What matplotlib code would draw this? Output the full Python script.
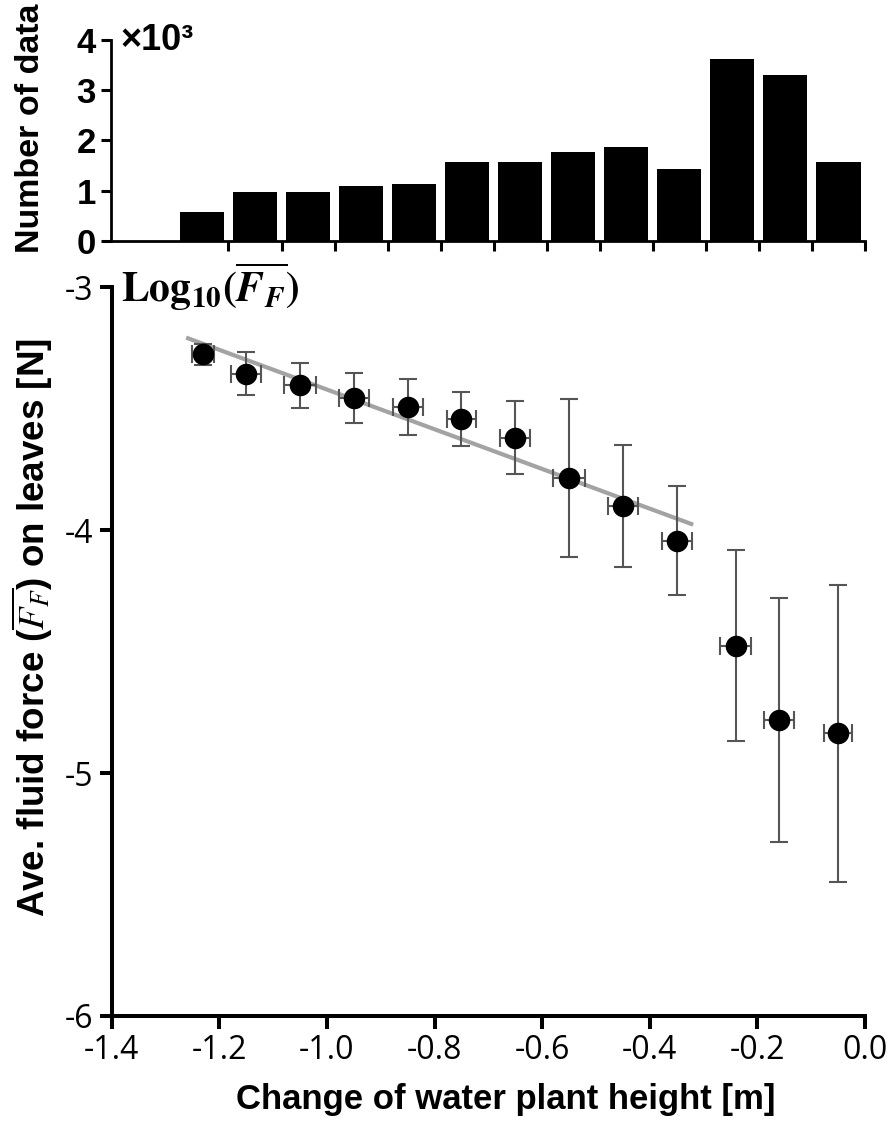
import matplotlib
matplotlib.use("Agg")
import matplotlib.pyplot as plt
import numpy as np

# histogram of data counts (x10^3), one bin per height class
counts = [0.57, 0.98, 0.98, 1.09, 1.14, 1.56, 1.57, 1.76, 1.87, 1.42, 3.63, 3.31, 1.57]

# mean log10 fluid force vs change of plant height
height_change = [-1.23, -1.15, -1.05, -0.95, -0.85, -0.75, -0.65, -0.55, -0.45, -0.35, -0.24, -0.16, -0.05]
height_err = [0.021, 0.028, 0.029, 0.028, 0.028, 0.027, 0.028, 0.029, 0.028, 0.028, 0.029, 0.028, 0.026]
log_force = [-3.276, -3.357, -3.405, -3.458, -3.495, -3.543, -3.620, -3.787, -3.901, -4.044, -4.476, -4.782, -4.837]
log_force_err = [0.043, 0.089, 0.091, 0.103, 0.115, 0.111, 0.149, 0.325, 0.252, 0.225, 0.392, 0.503, 0.610]

# regression line over the first ten classes
fit_x = [-1.258, -0.323]
fit_y = [-3.211, -3.975]

x_ticks = [-1.4, -1.2, -1.0, -0.8, -0.6, -0.4, -0.2, 0.0]
y_ticks = [-6, -5, -4, -3]
hist_ticks = [0, 1, 2, 3, 4]

plt.rcParams["mathtext.fontset"] = "stix"
bold_font = ["Liberation Sans", "DejaVu Sans"]
tick_font = ["Open Sans", "DejaVu Sans"]

fig = plt.figure(figsize=(8.94, 11.27), dpi=100)

# ---- top histogram
ax_h = fig.add_axes([0.1242, 0.7864, 0.8434, 0.1781])
pos = np.arange(len(counts))
ax_h.bar(pos, counts, width=0.83, color="black")
ax_h.set_xlim(-1.714, 12.5)
ax_h.set_ylim(0, 4)
ax_h.set_xticks(pos + 0.5)
ax_h.set_xticklabels([])
ax_h.set_yticks(hist_ticks)
ax_h.set_yticklabels([str(t) for t in hist_ticks], family=bold_font, weight="bold", fontsize=25)
for s in ["top", "right"]:
    ax_h.spines[s].set_visible(False)
for s in ["left", "bottom"]:
    ax_h.spines[s].set_linewidth(2.0)
ax_h.tick_params(axis="both", length=7, width=2.2, direction="out", pad=4)
ax_h.text(0.012, 1.0, "\u00d710\u00b3", transform=ax_h.transAxes, ha="left", va="center",
          family=bold_font, weight="bold", fontsize=26)
fig.text(0.034, 0.886, "Number of data", rotation=90, ha="center", va="center",
         family=bold_font, weight="bold", fontsize=24.5)

# ---- main scatter
ax = fig.add_axes([0.1249, 0.0985, 0.8427, 0.6468])
ax.plot(fit_x, fit_y, color="#a3a3a3", lw=3, zorder=1)
ax.errorbar(height_change, log_force, xerr=height_err, yerr=log_force_err, fmt="o",
            color="black", ms=14.5, ecolor="#555555", elinewidth=1.5, capsize=6.5,
            capthick=1.5, zorder=3)
ax.set_xlim(-1.4, 0.0)
ax.set_ylim(-6, -3)
ax.set_xticks(x_ticks)
ax.set_xticklabels(["%.1f" % t for t in x_ticks], family=tick_font, fontsize=23)
ax.set_yticks(y_ticks)
ax.set_yticklabels([str(t) for t in y_ticks], family=tick_font, fontsize=23)
for s in ["top", "right"]:
    ax.spines[s].set_visible(False)
for s in ["left", "bottom"]:
    ax.spines[s].set_linewidth(2.9)
ax.tick_params(axis="both", length=9, width=2.9, direction="out", pad=4)
ax.text(0.012, 1.0, r"$\mathbf{Log}_{\mathbf{10}}\mathbf{(}\overline{\mathbfit{F}_{\mathbfit{F}}}\mathbf{)}$",
        transform=ax.transAxes, ha="left", va="center", fontsize=30)
fig.text(0.036, 0.443, r"Ave. fluid force ($\overline{F_F}$) on leaves [N]", rotation=90,
         ha="center", va="center", family=bold_font, weight="bold", fontsize=26.5)
fig.text(0.566, 0.024, "Change of water plant height [m]", ha="center", va="center",
         family=bold_font, weight="bold", fontsize=25)

fig.savefig("out.png", dpi=100)
